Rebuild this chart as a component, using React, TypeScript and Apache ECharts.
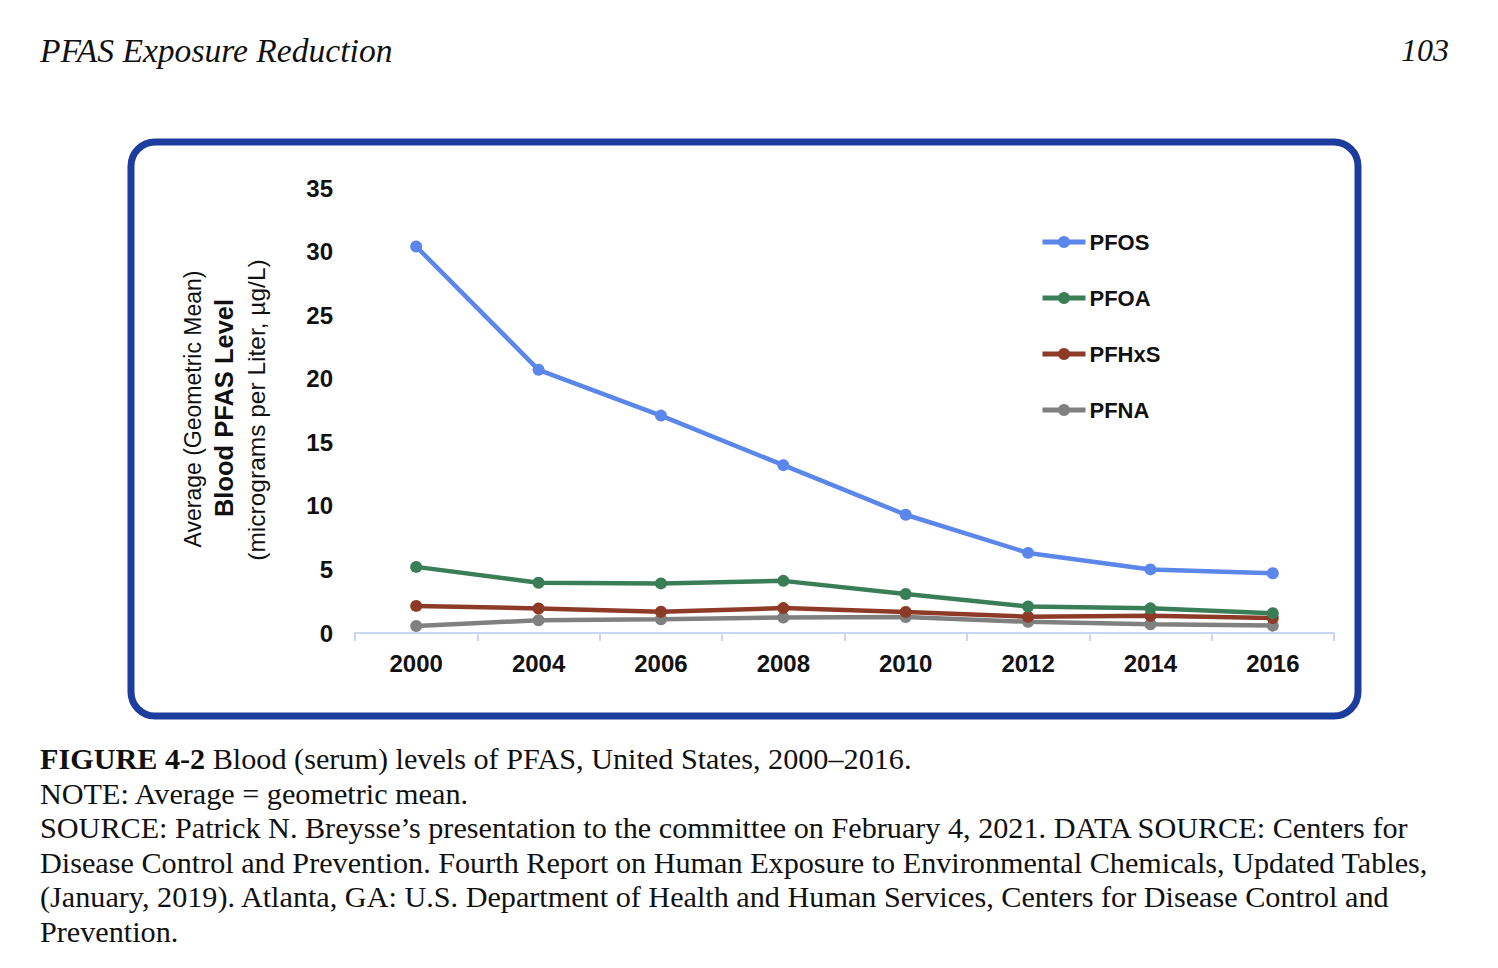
import React, { useEffect, useRef } from "react";
import * as echarts from "echarts";

const years = ["2000", "2004", "2006", "2008", "2010", "2012", "2014", "2016"];
const pfos = [30.4, 20.7, 17.1, 13.2, 9.3, 6.3, 5.0, 4.7];
const pfoa = [5.2, 3.95, 3.9, 4.1, 3.07, 2.08, 1.94, 1.56];
const pfhxs = [2.13, 1.93, 1.67, 1.96, 1.66, 1.28, 1.35, 1.18];
const pfna = [0.55, 1.0, 1.08, 1.22, 1.26, 0.88, 0.68, 0.58];
const seriesNames = ["PFOS", "PFOA", "PFHxS", "PFNA"];
const seriesColors = ["#5b86ea", "#3a7e58", "#8d3b27", "#808080"];
const yTicks = { min: 0, max: 35, interval: 5 };

const captionLines = [
  "NOTE: Average = geometric mean.",
  "SOURCE: Patrick N. Breysse\u2019s presentation to the committee on February 4, 2021. DATA SOURCE: Centers for",
  "Disease Control and Prevention. Fourth Report on Human Exposure to Environmental Chemicals, Updated Tables,",
  "(January, 2019). Atlanta, GA: U.S. Department of Health and Human Services, Centers for Disease Control and",
  "Prevention.",
];

export default function App() {
  const ref = useRef<HTMLDivElement>(null);
  useEffect(() => {
    if (!ref.current) return;
    const chart = echarts.init(ref.current, null, { renderer: "svg" });
    const data = [pfos, pfoa, pfhxs, pfna];
    const serif = "'Liberation Serif', 'Times New Roman', serif";
    const sans = "'Liberation Sans', Arial, sans-serif";
    const captionSize = 30.2;
    const lineYs = [759, 794, 828, 863, 897, 932];
    const graphics: any[] = [
      {
        type: "rect",
        shape: { x: 131, y: 142, width: 1227, height: 574, r: 24 },
        style: { fill: "#ffffff", stroke: "#1c3d9e", lineWidth: 7 },
        z: -10,
      },
      {
        type: "text",
        x: 40,
        y: 50,
        style: {
          text: "PFAS Exposure Reduction",
          font: `italic 33.6px ${serif}`,
          fill: "#111",
          verticalAlign: "middle",
        },
      },
      {
        type: "text",
        x: 1449,
        y: 50,
        style: {
          text: "103",
          font: `italic 32px ${serif}`,
          fill: "#111",
          align: "right",
          verticalAlign: "middle",
        },
      },
      {
        type: "text",
        x: 193,
        y: 409,
        rotation: Math.PI / 2,
        style: {
          text: "Average (Geometric Mean)",
          font: `23px ${sans}`,
          fill: "#111",
          align: "center",
          verticalAlign: "middle",
        },
      },
      {
        type: "text",
        x: 224,
        y: 408,
        rotation: Math.PI / 2,
        style: {
          text: "Blood PFAS Level",
          font: `bold 25.5px ${sans}`,
          fill: "#111",
          align: "center",
          verticalAlign: "middle",
        },
      },
      {
        type: "text",
        x: 256,
        y: 410,
        rotation: Math.PI / 2,
        style: {
          text: "(micrograms per Liter, \u00b5g/L)",
          font: `24.5px ${sans}`,
          fill: "#111",
          align: "center",
          verticalAlign: "middle",
        },
      },
      {
        type: "text",
        x: 40,
        y: lineYs[0],
        style: {
          text: "{b|FIGURE 4-2} Blood (serum) levels of PFAS, United States, 2000\u20132016.",
          font: `${captionSize}px ${serif}`,
          fill: "#111",
          verticalAlign: "middle",
          rich: {
            b: { fontWeight: "bold", fontSize: captionSize, fontFamily: serif, fill: "#111" },
          },
        },
      },
      ...captionLines.map((t, i) => ({
        type: "text",
        x: 40,
        y: lineYs[i + 1],
        style: {
          text: t,
          font: `${captionSize}px ${serif}`,
          fill: "#111",
          verticalAlign: "middle",
        },
      })),
    ];

    chart.setOption({
      animation: false,
      backgroundColor: "#ffffff",
      grid: { left: 355, right: 164, top: 188, bottom: 335, containLabel: false },
      legend: {
        orient: "vertical",
        left: 1035,
        top: 226,
        itemWidth: 43,
        itemHeight: 15,
        itemGap: 34,
        lineStyle: { width: 5 },
        textStyle: { fontFamily: sans, fontWeight: "bold", fontSize: 22, color: "#111", lineHeight: 22, padding: [0, 0, 0, -1] },
        data: seriesNames,
      },
      xAxis: {
        type: "category",
        data: years,
        boundaryGap: true,
        axisLine: { lineStyle: { color: "#c8d6f2", width: 2 } },
        axisTick: { show: true, length: 8, lineStyle: { color: "#c8d6f2", width: 2 } },
        axisLabel: { fontFamily: sans, fontWeight: "bold", fontSize: 24, color: "#111", margin: 18 },
      },
      yAxis: {
        type: "value",
        min: yTicks.min,
        max: yTicks.max,
        interval: yTicks.interval,
        axisLine: { show: false },
        axisTick: { show: false },
        splitLine: { show: false },
        axisLabel: { fontFamily: sans, fontWeight: "bold", fontSize: 24, color: "#111", margin: 22 },
      },
      series: seriesNames.map((n, i) => ({
        name: n,
        type: "line",
        data: data[i],
        symbol: "circle",
        symbolSize: 12,
        showSymbol: true,
        lineStyle: { width: 4.5, color: seriesColors[i] },
        itemStyle: { color: seriesColors[i] },
        z: 10 - i,
      })),
      graphic: graphics,
    });
    return () => chart.dispose();
  }, []);
  return (
    <div
      ref={ref}
      style={{ position: "fixed", left: 0, top: 0, width: 1498, height: 968 }}
    />
  );
}
